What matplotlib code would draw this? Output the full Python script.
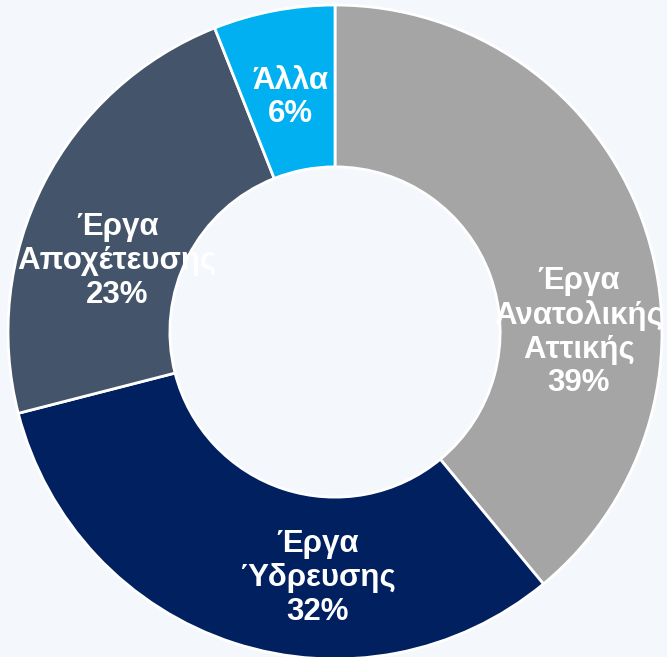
import numpy as np
import matplotlib.pyplot as plt

labels = ['Έργα\nΑνατολικής\nΑττικής', 'Έργα\nΎδρευσης', 'Έργα\nΑποχέτευσης', 'Άλλα']
shares = [39, 32, 23, 6]
colors = ['#A5A5A5', '#002060', '#44546A', '#00B0F0']
# small angle nudges (deg) to mimic manual label placement
nudge = [-19.8, 14.0, 9.0, 0.0]
label_r = [0.745, 0.755, 0.70, 0.73]

plt.rcParams['font.family'] = ['Liberation Sans', 'DejaVu Sans']

fig = plt.figure(figsize=(6.67, 6.57), dpi=100, facecolor='#F4F7FC')
ax = fig.add_axes([0, 0, 1, 1])
ax.set_facecolor('#F4F7FC')

wedges, _ = ax.pie(shares, colors=colors, startangle=90, counterclock=False,
                   radius=1.0, wedgeprops=dict(width=0.495, edgecolor='white', linewidth=2))

for w, lab, s, dn, r in zip(wedges, labels, shares, nudge, label_r):
    ang = np.deg2rad((w.theta1 + w.theta2) / 2 + dn)
    ax.text(r * np.cos(ang), r * np.sin(ang), f'{lab}\n{s}%', ha='center', va='center',
            color='white', fontsize=22.5, fontweight='bold', linespacing=1.17)

ax.set_xlim(-1.0245, 1.0153)
ax.set_ylim(-0.9939, 1.0153)
ax.set_aspect('auto')
ax.axis('off')

fig.savefig('out.png', dpi=100, facecolor=fig.get_facecolor())
